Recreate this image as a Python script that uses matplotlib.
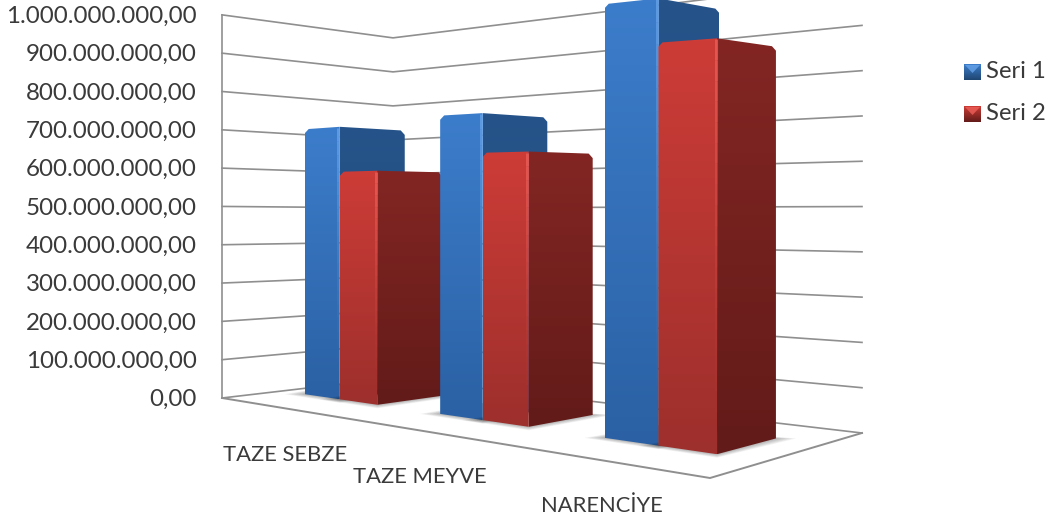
import numpy as np
import matplotlib
matplotlib.use("Agg")
import matplotlib.pyplot as plt
from matplotlib.colors import to_rgb
from matplotlib.patches import Polygon

plt.rcParams['font.family'] = ['Lato', 'DejaVu Sans']

categories = ['TAZE SEBZE', 'TAZE MEYVE', 'NARENCİYE']
seri_1 = [706e6, 717e6, 939e6]
seri_2 = [589e6, 624e6, 846e6]
series_names = ['Seri 1', 'Seri 2']
value_ticks = [0, 1e8, 2e8, 3e8, 4e8, 5e8, 6e8, 7e8, 8e8, 9e8, 1e9]
tick_labels = ['0,00', '100.000.000,00', '200.000.000,00', '300.000.000,00',
               '400.000.000,00', '500.000.000,00', '600.000.000,00',
               '700.000.000,00', '800.000.000,00', '900.000.000,00',
               '1.000.000.000,00']

# bar footprints on the floor, floor is u (along categories) and v (depth), 0..1
u_left = [0.069, 0.425, 0.753]
u_right = [0.272, 0.613, 0.931]
v_front, v_back = 0.32, 0.70

# floor corners in pixels: left, front, right, back
P00 = (222, 398)
P10 = (710, 478)
P11 = (862, 433)
P01 = (393, 378)

dx1, dx2, sx = P10[0] - P11[0], P01[0] - P11[0], P00[0] - P10[0] + P11[0] - P01[0]
dy1, dy2, sy = P10[1] - P11[1], P01[1] - P11[1], P00[1] - P10[1] + P11[1] - P01[1]
den = dx1 * dy2 - dx2 * dy1
g = (sx * dy2 - dx2 * sy) / den
h = (dx1 * sy - sx * dy1) / den


def project(u, v, value=0.0):
    w = 1 + g * u + h * v
    x = ((P10[0] * (1 + g) - P00[0]) * u + (P01[0] * (1 + h) - P00[0]) * v + P00[0]) / w
    y = ((P10[1] * (1 + g) - P00[1]) * u + (P01[1] * (1 + h) - P00[1]) * v + P00[1]) / w
    # pixels per 100 million, falls off with depth
    s = 1 / (0.0261 - 0.00732 * u + 0.0033 * v)
    return x, y - value / 1e8 * s


def face(ax, pts, top, bottom, z):
    pts = np.array(pts)
    t = np.linspace(0, 1, 64)[:, None]
    img = (1 - t) * np.array(to_rgb(top)) + t * np.array(to_rgb(bottom))
    im = ax.imshow(img[:, None, :], extent=(pts[:, 0].min(), pts[:, 0].max(), pts[:, 1].max(), pts[:, 1].min()),
                   aspect='auto', interpolation='bilinear', zorder=z)
    p = Polygon(pts, closed=True, transform=ax.transData, fc='none', ec='none')
    ax.add_patch(p)
    im.set_clip_path(p)


def bar(ax, u0, u1, val, cols, z):
    a = project(u0, v_front)
    b = project(u1, v_front)
    c = project(u1, v_back)
    at = project(u0, v_front, val)
    bt = project(u1, v_front, val)
    ct = project(u1, v_back, val)
    # soft floor shadow
    for k in range(6):
        ex = 3 + 3.5 * k
        ey = 0.5 + 0.6 * k
        ax.add_patch(Polygon([(a[0] - ex, a[1]), (b[0], b[1] + ey), (c[0] + ex, c[1]), (b[0], c[1] - 6)],
                             closed=True, fc='black', ec='none', alpha=0.05, zorder=z))
    # small chamfers on the outer top corners
    face(ax, [a, b, bt, (at[0] + 4, at[1] - 0.3), (at[0], at[1] + 4)], cols[0], cols[1], z + 0.1)
    face(ax, [b, c, (ct[0], ct[1] + 4), (ct[0] - 4, ct[1] - 0.5), bt], cols[2], cols[3], z + 0.2)
    # highlight on the corner, fades towards the floor
    n = 20
    ys = np.linspace(bt[1] + 1, b[1] - 1, n + 1)
    for k in range(n):
        ax.plot([bt[0] - 1.5, bt[0] - 1.5], [ys[k], ys[k + 1]], color=cols[4], lw=2.2,
                alpha=0.75 * (1 - k / n) ** 2, solid_capstyle='butt', zorder=z + 0.3)


fig = plt.figure(figsize=(10.55, 5.19), dpi=100)
ax = fig.add_axes([0, 0, 1, 1])
ax.axis('off')

grid = '#8f8f8f'
txt = '#3a3a3a'
for val, lab in zip(value_ticks, tick_labels):
    l = project(0, 0, val)
    b = project(0, 1, val)
    r = project(1, 1, val)
    ax.plot([l[0], b[0], r[0]], [l[1], b[1], r[1]], color=grid, lw=1.2, zorder=1)
    ax.text(197, l[1] + 1.5, lab, ha='right', va='center', fontsize=17.4, color=txt)

f0 = project(0, 0)
f1 = project(1, 0)
f2 = project(1, 1)
ax.plot([f0[0], f1[0], f2[0]], [f0[1], f1[1], f2[1]], color=grid, lw=1.4, zorder=1)
top_left = project(0, 0, value_ticks[-1])
ax.plot([f0[0], top_left[0]], [f0[1], top_left[1]], color=grid, lw=1.2, zorder=1)

blue = ('#3c7dcb', '#2b61a4', '#26548a', '#1f4672', '#66a3ea')
red = ('#cd3c37', '#9d2f2c', '#832623', '#621b19', '#ee5f58')

for i, name in enumerate(categories):
    mid = (u_left[i] + u_right[i]) / 2
    bar(ax, u_left[i], mid, seri_1[i], blue, 2 + i * 2)
    bar(ax, mid, u_right[i], seri_2[i], red, 3 + i * 2)
    x, y = project((i + 0.5) / 3, 0)
    ax.text(x + 8, y + 47.5, name, ha='center', va='center', fontsize=15.8, color=txt)

# legend
for name, cols, yc in zip(series_names, (blue, red), (72, 114)):
    face(ax, [(964, yc - 8), (981, yc - 8), (981, yc + 8), (964, yc + 8)], cols[0], cols[3], 10)
    ax.add_patch(Polygon([(965, yc - 7), (980, yc - 7), (972.5, yc + 1)], closed=True, fc=cols[4],
                         ec='none', alpha=0.8, zorder=11))
    ax.text(986, yc, name, ha='left', va='center', fontsize=17.2, color=txt)

ax.set_xlim(0, 1055)
ax.set_ylim(519, 0)
fig.savefig('out.png', dpi=100)
